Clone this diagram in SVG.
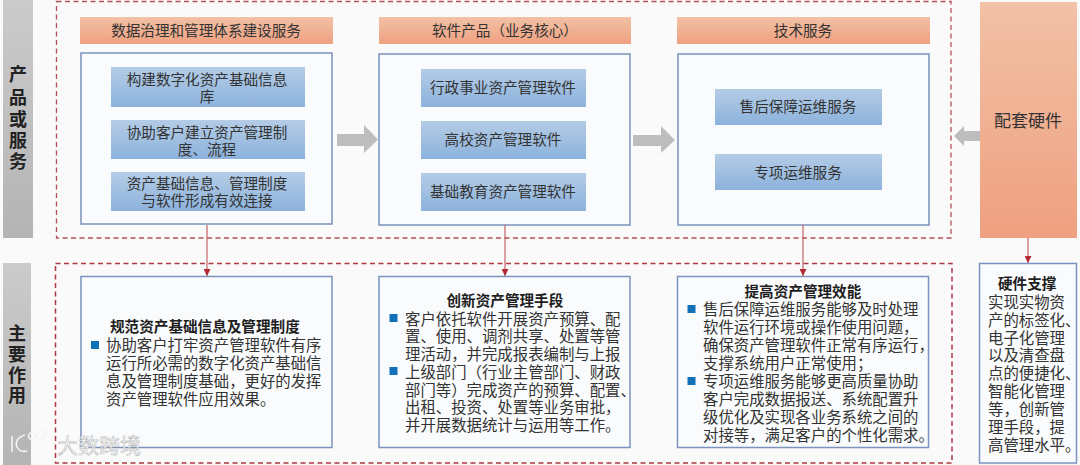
<svg xmlns="http://www.w3.org/2000/svg" width="1080" height="465" viewBox="0 0 1080 465">
<style>
text{font-family:"Noto Sans CJK SC","Liberation Sans",sans-serif;fill:#333;font-size:14.6px}
.c{text-anchor:middle}
.b{font-weight:700;fill:#1e1e1e}
.t{font-size:15.4px}
.v{font-size:18px;font-weight:700;fill:#222;text-anchor:middle}
.dash{fill:none;stroke:#b5505a;stroke-width:1.3;stroke-dasharray:5 3.5}
.dash2{stroke:#ad3845;stroke-width:1.5}
.panel{fill:#fafbfc;stroke:#7b93bd;stroke-width:1.5}
.hd{fill:url(#or)}
.in{fill:url(#bl)}
.bar{fill:url(#gr)}
.ar{fill:#bdbdbd}
.bu{fill:#1070b8}
.cn{stroke:#c0555a;stroke-width:1.1;fill:none;marker-end:url(#m)}
.wm{fill:none;stroke:#f4f4f4;stroke-width:1.6}
</style>
<defs>
<linearGradient id="or" x1="0" y1="0" x2="0" y2="1"><stop offset="0" stop-color="#f2c1a6"/><stop offset="1" stop-color="#efa080"/></linearGradient>
<linearGradient id="bl" x1="0" y1="0" x2="0" y2="1"><stop offset="0" stop-color="#b4cce6"/><stop offset="1" stop-color="#8cb2dc"/></linearGradient>
<linearGradient id="gr" x1="0" y1="0" x2="0" y2="1"><stop offset="0" stop-color="#cbcbcb"/><stop offset="1" stop-color="#b4b4b4"/></linearGradient>
<marker id="m" markerWidth="8" markerHeight="7" refX="7" refY="3.5" orient="auto" markerUnits="userSpaceOnUse"><path d="M0 0L7 3.5L0 7Z" fill="#b02a35"/></marker>
</defs>
<rect width="1080" height="465" fill="#fafafb"/>
<g id="frames">
<rect class="dash" x="56.500" y="1.500" width="894.500" height="236.500"/>
<rect class="dash dash2" x="55.500" y="263.500" width="896.500" height="199.500"/>
</g>
<g id="label-products"><rect class="bar" x="3" y="0" width="30" height="238"/>
<text class="v"><tspan x="18" y="81">产</tspan><tspan x="18" y="103.500">品</tspan><tspan x="18" y="125.500">或</tspan><tspan x="18" y="147">服</tspan><tspan x="18" y="168">务</tspan></text></g>
<g id="label-effects"><rect class="bar" x="3" y="263" width="28" height="202"/>
<text class="v"><tspan x="17" y="340">主</tspan><tspan x="17" y="361">要</tspan><tspan x="17" y="381.500">作</tspan><tspan x="17" y="402">用</tspan></text></g>
<g id="col1">
<rect class="hd" x="80" y="17" width="253" height="27"/><text class="c" x="206" y="36">数据治理和管理体系建设服务</text>
<rect class="panel" x="81" y="53" width="251" height="171"/>
<rect class="in" x="111" y="67" width="194" height="40"/><text class="c"><tspan x="207" y="85">构建数字化资产基础信息</tspan><tspan x="207" y="102">库</tspan></text>
<rect class="in" x="111" y="120" width="194" height="39"/><text class="c"><tspan x="207" y="138">协助客户建立资产管理制</tspan><tspan x="207" y="155">度、流程</tspan></text>
<rect class="in" x="111" y="172" width="194" height="39"/><text class="c"><tspan x="207" y="189">资产基础信息、管理制度</tspan><tspan x="207" y="206">与软件形成有效连接</tspan></text>
</g>
<g id="col2">
<rect class="hd" x="379" y="17" width="252" height="27"/><text class="c" x="505" y="36">软件产品（业务核心）</text>
<rect class="panel" x="379" y="54" width="251" height="171"/>
<rect class="in" x="421" y="69" width="165" height="38"/><text class="c" x="503" y="93">行政事业资产管理软件</text>
<rect class="in" x="421" y="121" width="165" height="38"/><text class="c" x="503" y="145">高校资产管理软件</text>
<rect class="in" x="421" y="173" width="165" height="38"/><text class="c" x="503" y="197">基础教育资产管理软件</text>
</g>
<g id="col3">
<rect class="hd" x="677" y="17" width="253" height="27"/><text class="c" x="803" y="36">技术服务</text>
<rect class="panel" x="678" y="54" width="251" height="171"/>
<rect class="in" x="715" y="89" width="167" height="36"/><text class="c" x="798" y="112">售后保障运维服务</text>
<rect class="in" x="715" y="154" width="167" height="36"/><text class="c" x="798" y="178">专项运维服务</text>
</g>
<g id="hardware"><rect class="hd" x="980" y="2" width="97" height="236"/><text class="c" x="1028" y="127" style="font-size:17px">配套硬件</text></g>
<g id="arrows">
<path class="ar" d="M337 134H364V125L378 139.500L364 153V146H337Z"/>
<path class="ar" d="M633 135H661V126L675 140L661 153V146H633Z"/>
<path class="ar" d="M980 131H964V126L954 136L964 146V141H980Z"/>
</g>
<g id="connectors">
<path class="cn" d="M207 225V276"/><path class="cn" d="M505 225V276"/><path class="cn" d="M803 225V276"/><path class="cn" d="M1028 238V263"/>
</g>
<g id="effect1">
<rect class="panel" x="81" y="276.500" width="251" height="171"/>
<rect class="bu" x="91" y="341" width="8" height="8"/>
<text class="t"><tspan class="b" x="110" y="332" style="font-size:14.6px">规范资产基础信息及管理制度</tspan><tspan x="106" y="350.500">协助客户打牢资产管理软件有序</tspan><tspan x="106" y="368.500">运行所必需的数字化资产基础信</tspan><tspan x="106" y="386.500">息及管理制度基础，更好的发挥</tspan><tspan x="106" y="404.500">资产管理软件应用效果。</tspan></text>
</g>
<g id="effect2">
<rect class="panel" x="379" y="276.500" width="251" height="171"/>
<rect class="bu" x="389.500" y="314" width="8" height="8"/><rect class="bu" x="389.500" y="367" width="8" height="8"/>
<text class="t"><tspan class="b" x="446.500" y="306" style="font-size:14.6px">创新资产管理手段</tspan><tspan x="405" y="324.500">客户依托软件开展资产预算、配</tspan><tspan x="405" y="342">置、使用、调剂共享、处置等管</tspan><tspan x="405" y="360">理活动，并完成报表编制与上报</tspan><tspan x="405" y="377.500">上级部门（行业主管部门、财政</tspan><tspan x="405" y="395.500">部门等）完成资产的预算、配置、</tspan><tspan x="405" y="413">出租、投资、处置等业务审批，</tspan><tspan x="405" y="431">并开展数据统计与运用等工作。</tspan></text>
</g>
<g id="effect3">
<rect class="panel" x="677.500" y="276.500" width="251" height="171"/>
<rect class="bu" x="687.500" y="305" width="8" height="8"/><rect class="bu" x="687.500" y="377" width="8" height="8"/>
<text class="t"><tspan class="b" x="744.500" y="297" style="font-size:14.6px">提高资产管理效能</tspan><tspan x="703" y="314.500">售后保障运维服务能够及时处理</tspan><tspan x="703" y="332.500">软件运行环境或操作使用问题，</tspan><tspan x="703" y="350.500">确保资产管理软件正常有序运行，</tspan><tspan x="703" y="368.500">支撑系统用户正常使用；</tspan><tspan x="703" y="386.500">专项运维服务能够更高质量协助</tspan><tspan x="703" y="404.500">客户完成数据报送、系统配置升</tspan><tspan x="703" y="422.500">级优化及实现各业务系统之间的</tspan><tspan x="703" y="440.500">对接等，满足客户的个性化需求。</tspan></text>
</g>
<g id="effect4">
<rect class="panel" x="979.500" y="263.500" width="97" height="199.500"/>
<text class="t"><tspan class="b" x="998" y="288.500" style="font-size:14.6px">硬件支撑</tspan><tspan x="988" y="307.500">实现实物资</tspan><tspan x="988" y="325.500">产的标签化、</tspan><tspan x="988" y="343.500">电子化管理</tspan><tspan x="988" y="361">以及清查盘</tspan><tspan x="988" y="378.500">点的便捷化、</tspan><tspan x="988" y="397">智能化管理</tspan><tspan x="988" y="414.500">等，创新管</tspan><tspan x="988" y="432.500">理手段，提</tspan><tspan x="988" y="450.500">高管理水平。</tspan></text>
</g>
<g id="watermark">
<path class="wm" d="M12 436V452M25 435C17 437 15 443 17 447C19 451 23 452 27 451"/>
<circle class="wm" cx="32" cy="436" r="3.500"/><circle class="wm" cx="41" cy="435" r="4.500"/>
<text x="57" y="453" style="font-size:21px;fill:#f6f6f6;stroke:#8f8f8f;stroke-width:.3">大数跨境</text>
</g>
</svg>
